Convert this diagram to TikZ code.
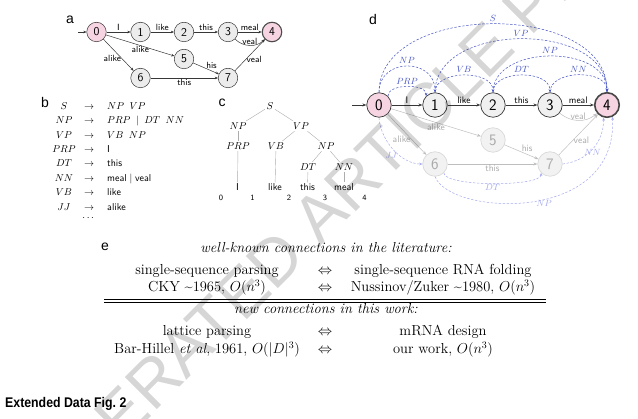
\documentclass[tikz,border=0pt]{standalone}
\usepackage{fontspec}
\usepackage{amsmath}
\usepackage{graphicx}
\usetikzlibrary{arrows.meta}
\newfontfamily\hv{Liberation Sans}
\definecolor{pinkfill}{RGB}{246,212,225}
\definecolor{arcblue}{RGB}{72,86,196}
\definecolor{arclav}{RGB}{165,170,238}
\definecolor{edgedark}{RGB}{55,55,55}
\definecolor{lightedge}{RGB}{190,190,190}
\definecolor{lightfill}{RGB}{236,236,236}
\definecolor{lighttext}{RGB}{170,170,170}
\tikzset{
 plabel/.style={font=\hv\fontsize{14}{14}\selectfont, inner sep=0pt},
 anode/.style={circle, draw=edgedark, line width=0.5pt, fill=gray!15, minimum size=19.5pt, inner sep=0pt, font=\sffamily\fontsize{12}{12}\selectfont},
 apink/.style={anode, fill=pinkfill},
 aacc/.style={apink, line width=1.1pt, draw=gray!60!black},
 aedge/.style={draw=edgedark, line width=0.5pt, -{Stealth[length=3.2pt,width=2.6pt]}},
 albl/.style={font=\sffamily\fontsize{9}{9}\selectfont, inner sep=1pt},
 bt/.style={font=\fontsize{10}{12}\selectfont, inner sep=0pt, anchor=base},
 ct/.style={font=\fontsize{10}{12}\selectfont, inner sep=1.5pt, anchor=base},
 cw/.style={ct, font=\sffamily\fontsize{10}{12}\selectfont},
 cidx/.style={font=\sffamily\fontsize{8}{8}\selectfont, inner sep=0pt, anchor=base},
 tline/.style={draw=gray!65, line width=0.4pt},
 dnode/.style={circle, draw=edgedark, line width=0.7pt, fill=gray!12, minimum size=24.5pt, inner sep=0pt, font=\sffamily\fontsize{16}{16}\selectfont},
 dpink/.style={dnode, fill=pinkfill},
 dacc/.style={dpink, line width=1.6pt, draw=gray!55!black},
 dlight/.style={dnode, draw=gray!30, fill=gray!10, text=lighttext},
 dedge/.style={draw=edgedark, line width=0.6pt, -{Stealth[length=4pt,width=3pt]}},
 dledge/.style={draw=lightedge, line width=0.5pt, -{Stealth[length=4pt,width=3pt]}},
 dlbl/.style={font=\sffamily\fontsize{9.5}{10}\selectfont, inner sep=1pt},
 dllbl/.style={dlbl, text=lighttext},
 uarc/.style={draw=arcblue, line width=0.5pt, dash pattern=on 2.4pt off 1.6pt, -{Stealth[length=3.2pt,width=2.6pt]}},
 ulbl/.style={font=\fontsize{9.5}{10}\selectfont, text=arcblue, inner sep=0.5pt},
 larc/.style={draw=arclav, line width=0.5pt, dash pattern=on 2.4pt off 1.6pt, -{Stealth[length=3.2pt,width=2.6pt]}},
 llbl/.style={font=\fontsize{9.5}{10}\selectfont, text=arclav, inner sep=0.5pt},
 et/.style={font=\fontsize{14.5}{17}\selectfont, inner sep=0pt, anchor=base},
 wm/.style={font=\hv\fontsize{66}{66}\selectfont, text=black, opacity=0.16, inner sep=0pt}
}
\begin{document}
\begin{tikzpicture}[x=1pt,y=-1pt]
\useasboundingbox (0,0) rectangle (638,419);

% panel labels
\node[plabel] (la) at (70,20) {a};
\node[plabel] (lb) at (45,103) {b};
\node[plabel] (lc) at (222,103) {c};
\node[plabel] (ld) at (373,20) {d};
\node[plabel] (le) at (105,247) {e};

% ---------- panel a ----------
\node[apink] (a0) at (96.5,32) {0};
\node[anode] (a1) at (140.5,32) {1};
\node[anode] (a2) at (184,32) {2};
\node[anode] (a3) at (228,32) {3};
\node[aacc] (a4) at (272,32) {4};
\node[anode] (a5) at (184,59) {5};
\node[anode] (a6) at (140.5,78) {6};
\node[anode] (a7) at (228,78) {7};
\coordinate (ain) at (78,32);
\draw[aedge] (ain) -- (a0);
\draw[aedge] (a0) -- (a1) node[midway,above,albl] {I};
\draw[aedge] (a1) -- (a2) node[midway,above,albl] {like};
\draw[aedge] (a2) -- (a3) node[midway,above,albl] {this};
\draw[aedge] (a3) -- (a4) node[midway,above,albl] {meal};
\draw[aedge] (a3) to[bend right=45] node[midway,above,albl,inner sep=0.3pt] {veal} (a4);
\draw[aedge] (a0) -- (a5) node[midway,below,albl] {alike};
\draw[aedge] (a0) -- (a6) node[pos=0.62,left,albl] {alike};
\draw[aedge] (a5) -- (a7) node[midway,above right,albl,inner sep=0pt] {his};
\draw[aedge] (a7) -- (a4) node[pos=0.35,right,albl] {veal};
\draw[aedge] (a6) -- (a7) node[midway,below,albl] {this};

% ---------- panel b ----------
\node[bt] (bl1) at (64,110) {$S$};
\node[bt] (ba1) at (89,110) {$\rightarrow$};
\node[bt,anchor=base west] (br1) at (107,110) {$NP\;\;VP$};
\node[bt] (bl2) at (64,124) {$NP$};
\node[bt] (ba2) at (89,124) {$\rightarrow$};
\node[bt,anchor=base west] (br2) at (107,124) {$PRP\;\mid\;DT\;\;NN$};
\node[bt] (bl3) at (64,138.5) {$VP$};
\node[bt] (ba3) at (89,138.5) {$\rightarrow$};
\node[bt,anchor=base west] (br3) at (107,138.5) {$VB\;\;NP$};
\node[bt] (bl4) at (64,152.5) {$PRP$};
\node[bt] (ba4) at (89,152.5) {$\rightarrow$};
\node[bt,anchor=base west] (br4) at (107,152.5) {\sffamily I};
\node[bt] (bl5) at (64,167) {$DT$};
\node[bt] (ba5) at (89,167) {$\rightarrow$};
\node[bt,anchor=base west] (br5) at (107,167) {\sffamily this};
\node[bt] (bl6) at (64,181.5) {$NN$};
\node[bt] (ba6) at (89,181.5) {$\rightarrow$};
\node[bt,anchor=base west] (br6) at (107,181.5) {\sffamily meal\;$\mid$\;veal};
\node[bt] (bl7) at (64,196) {$VB$};
\node[bt] (ba7) at (89,196) {$\rightarrow$};
\node[bt,anchor=base west] (br7) at (107,196) {\sffamily like};
\node[bt] (bl8) at (64,210.5) {$JJ$};
\node[bt] (ba8) at (89,210.5) {$\rightarrow$};
\node[bt,anchor=base west] (br8) at (107,210.5) {\sffamily alike};
\node[bt] (bdots) at (89,221) {$\cdots$};

% ---------- panel c ----------
\node[ct] (cS) at (270,109.5) {$S$};
\node[ct] (cNP) at (238,129.5) {$NP$};
\node[ct] (cVP) at (301,129.5) {$VP$};
\node[ct] (cPRP) at (238,149.5) {$PRP$};
\node[ct] (cVB) at (276,149.5) {$VB$};
\node[ct] (cNP2) at (326,149.5) {$NP$};
\node[ct] (cDT) at (308,170.5) {$DT$};
\node[ct] (cNN) at (344,170.5) {$NN$};
\node[cw] (wI) at (237.5,191) {I};
\node[cw] (wlike) at (275,191) {like};
\node[cw] (wthis) at (307.5,191) {this};
\node[cw] (wmeal) at (344,191) {meal};
\draw[tline] (cS) -- (cNP);
\draw[tline] (cS) -- (cVP);
\draw[tline] (cNP) -- (cPRP);
\draw[tline] (cVP) -- (cVB);
\draw[tline] (cVP) -- (cNP2);
\draw[tline] (cNP2) -- (cDT);
\draw[tline] (cNP2) -- (cNN);
\draw[tline] (cPRP) -- (wI);
\draw[tline] (cVB) -- (wlike);
\draw[tline] (cDT) -- (wthis);
\draw[tline] (cNN) -- (wmeal);
\node[cidx] (i0) at (221,201) {0};
\node[cidx] (i1) at (252.5,201) {1};
\node[cidx] (i2) at (289,201) {2};
\node[cidx] (i3) at (325,201) {3};
\node[cidx] (i4) at (364.5,201) {4};

% ---------- panel d ----------
\node[dpink] (d0) at (379,105) {0};
\node[dnode] (d1) at (435,105) {1};
\node[dnode] (d2) at (493,105) {2};
\node[dnode] (d3) at (550,105) {3};
\node[dacc] (d4) at (607,105) {4};
\node[dlight] (d5) at (493,140) {5};
\node[dlight] (d6) at (435,164) {6};
\node[dlight] (d7) at (550,164) {7};
\coordinate (din) at (352,105);
\draw[dedge] (din) -- (d0);
\draw[dedge] (d0) -- (d1) node[midway,above,dlbl] {I};
\draw[dedge] (d1) -- (d2) node[midway,above,dlbl] {like};
\draw[dedge] (d2) -- (d3) node[midway,above,dlbl] {this};
\draw[dedge] (d3) -- (d4) node[midway,above,dlbl] {meal};
\draw[dledge] (d3) to[bend right=40] node[midway,above,dllbl,inner sep=0.3pt] {veal} (d4);
\draw[dledge] (d0) -- (d5) node[midway,below,dllbl] {alike};
\draw[dledge] (d0) -- (d6) node[pos=0.62,left,dllbl] {alike};
\draw[dledge] (d5) -- (d7) node[midway,above right,dllbl,inner sep=0pt] {his};
\draw[dledge] (d7) -- (d4) node[pos=0.35,right,dllbl] {veal};
\draw[dledge] (d6) -- (d7) node[midway,below,dllbl] {this};
% upper arcs
\draw[uarc] (d0.north) .. controls +(0,-91) and +(0,-91) .. (d4.north) node[midway,above=1.5pt,ulbl] {$S$};
\draw[uarc] (d1.north) .. controls +(0,-71) and +(0,-71) .. (d4.north) node[midway,above=1.5pt,ulbl] {$VP$};
\draw[uarc] (d2.north) .. controls +(0,-48) and +(0,-48) .. (d4.north) node[midway,above=1.5pt,ulbl] {$NP$};
\draw[uarc] (d0.north) .. controls +(0,-35) and +(0,-35) .. (d1.north) node[midway,above=1.5pt,ulbl] {$NP$};
\draw[uarc] (d0.north east) .. controls +(0,-12.7) and +(0,-12.7) .. (d1.north west) node[midway,above=1pt,ulbl] {$PRP$};
\draw[uarc] (d1.north) .. controls +(0,-23) and +(0,-23) .. (d2.north) node[midway,above=1.5pt,ulbl] {$VB$};
\draw[uarc] (d2.north) .. controls +(0,-23) and +(0,-23) .. (d3.north) node[midway,above=1.5pt,ulbl] {$DT$};
\draw[uarc] (d3.north) .. controls +(0,-23) and +(0,-23) .. (d4.north) node[midway,above=1.5pt,ulbl] {$NN$};
% lower arcs
\draw[larc] (d0.south) .. controls +(2,25) and +(-20,0) .. (d6.west) node[pos=0.55,below left=-1.5pt,llbl] {$JJ$};
\draw[larc] (d6.south east) .. controls +(0,14) and +(0,14) .. (d7.south west) node[midway,below,llbl] {$DT$};
\draw[larc] (d6.south) .. controls +(15,39) and +(5,108) .. (d4.-65) node[pos=0.55,below,llbl] {$NP$};
\draw[larc] (d7.east) .. controls +(25,-3) and +(0,25) .. (d4.-105) node[pos=0.5,below,llbl] {$NN$};

% ---------- panel e ----------
\node[et] (e0) at (326,253) {\itshape well-known connections in the literature:};
\node[et] (e11) at (207,275) {single-sequence parsing};
\node[et] (e12) at (325,275) {$\Leftrightarrow$};
\node[et] (e13) at (443,275) {single-sequence RNA folding};
\node[et] (e21) at (207,292) {CKY \textasciitilde1965, $O(n^3)$};
\node[et] (e22) at (325,292) {$\Leftrightarrow$};
\node[et] (e23) at (443,292) {Nussinov/Zuker \textasciitilde1980, $O(n^3)$};
\coordinate (r1l) at (104,299);
\coordinate (r1r) at (546,299);
\coordinate (r2l) at (104,302);
\coordinate (r2r) at (546,302);
\draw[line width=0.5pt] (r1l) -- (r1r);
\draw[line width=0.5pt] (r2l) -- (r2r);
\node[et] (e3) at (326,314) {\itshape new connections in this work:};
\node[et] (e41) at (207,336) {lattice parsing};
\node[et] (e42) at (325,336) {$\Leftrightarrow$};
\node[et] (e43) at (443,336) {mRNA design};
\node[et] (e51) at (207,354) {Bar-Hillel \textit{et al}, 1961, $O(|D|^3)$};
\node[et] (e52) at (325,354) {$\Leftrightarrow$};
\node[et] (e53) at (443,354) {our work, $O(n^3)$};

% caption
\node[anchor=base west, inner sep=0pt, font=\hv\bfseries\fontsize{14}{14}\selectfont] (cap) at (5,408) {\scalebox{0.88}[1]{Extended Data Fig.~2}};

% watermark
\node[wm, rotate=45] (wmk) at (403,132) {\llap{ACCELERATED }ARTICLE\rlap{ PREVIEW}};
\end{tikzpicture}
\end{document}
